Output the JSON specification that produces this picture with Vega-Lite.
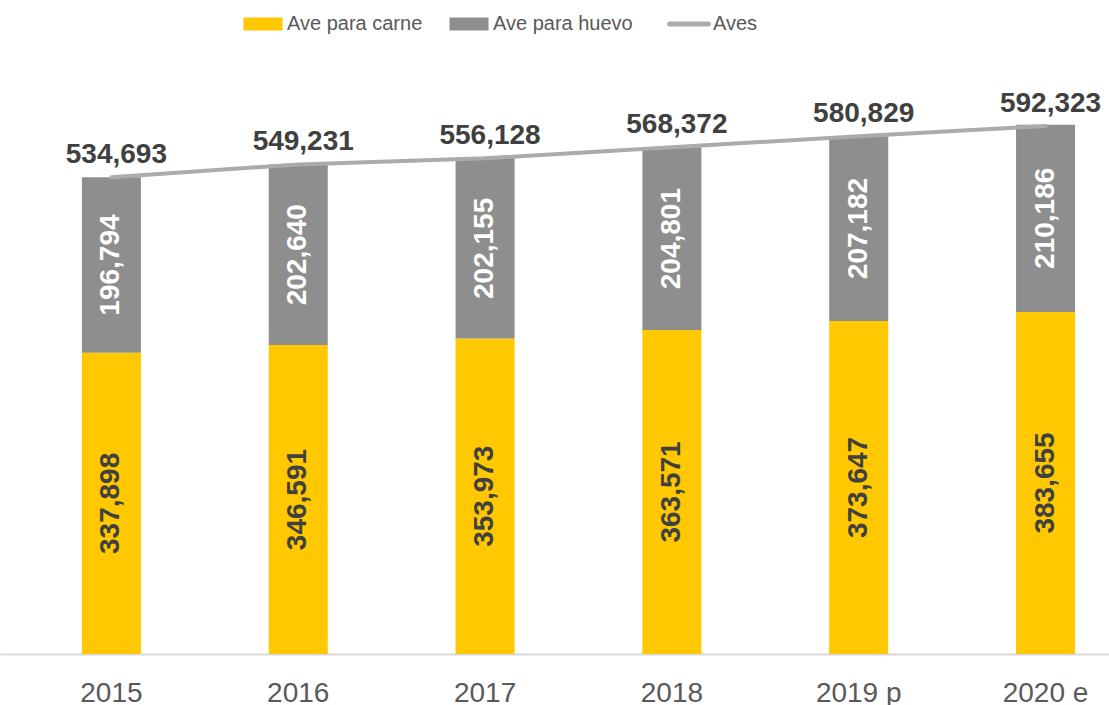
{
  "$schema": "https://vega.github.io/schema/vega-lite/v6.json",
  "width": 1109,
  "height": 624,
  "autosize": {"type": "none"},
  "padding": {"left": 0, "top": 30, "right": 0, "bottom": 51},
  "background": "white",
  "config": {"view": {"stroke": null}, "font": "Liberation Sans"},
  "datasets": {
    "parts": [
      {"year": "2015", "type": "Ave para carne", "value": 337898},
      {"year": "2015", "type": "Ave para huevo", "value": 196794},
      {"year": "2016", "type": "Ave para carne", "value": 346591},
      {"year": "2016", "type": "Ave para huevo", "value": 202640},
      {"year": "2017", "type": "Ave para carne", "value": 353973},
      {"year": "2017", "type": "Ave para huevo", "value": 202155},
      {"year": "2018", "type": "Ave para carne", "value": 363571},
      {"year": "2018", "type": "Ave para huevo", "value": 204801},
      {"year": "2019 p", "type": "Ave para carne", "value": 373647},
      {"year": "2019 p", "type": "Ave para huevo", "value": 207182},
      {"year": "2020 e", "type": "Ave para carne", "value": 383655},
      {"year": "2020 e", "type": "Ave para huevo", "value": 210186}
    ],
    "totals": [
      {"year": "2015", "total": 534693},
      {"year": "2016", "total": 549231},
      {"year": "2017", "total": 556128},
      {"year": "2018", "total": 568372},
      {"year": "2019 p", "total": 580829},
      {"year": "2020 e", "total": 592323}
    ]
  },
  "layer": [
    {
      "data": {"name": "parts"},
      "mark": {"type": "bar"},
      "encoding": {
        "x": {
          "field": "year", "type": "nominal", "sort": null,
          "scale": {"paddingInner": 0.684, "paddingOuter": 0.31, "align": 0.707},
          "axis": {
            "title": null, "labelAngle": 0, "labelFontSize": 28, "labelColor": "#595959",
            "labelFont": "Liberation Sans", "ticks": false, "tickSize": 0,
            "labelPadding": 47, "labelBaseline": "alphabetic",
            "domainColor": "#D9D9D9", "domainWidth": 2
          }
        },
        "y": {
          "field": "value", "type": "quantitative", "stack": "zero",
          "scale": {"domain": [0, 700000], "nice": false, "zero": true},
          "axis": null
        },
        "order": {"field": "type", "sort": "ascending"},
        "color": {
          "field": "type", "type": "nominal",
          "scale": {
            "domain": ["Ave para carne", "Ave para huevo", "Aves"],
            "range": ["#FFC800", "#8E8E8E", "#ABABAB"]
          },
          "legend": {
            "orient": "none", "legendX": 253, "legendY": -16,
            "direction": "horizontal", "title": null,
            "labelFont": "Liberation Sans", "labelFontSize": 20,
            "labelColor": "#595959", "labelOffset": 14, "columnPadding": 26,
            "symbolType": "M-1,-0.333H1V0.333H-1Z", "symbolSize": 1521,
            "symbolStrokeWidth": 0,
            "encode": {
              "symbols": {
                "update": {
                  "shape": {"signal": "datum.value === 'Aves' ? 'M-1,0H1' : 'M-1,-0.333H1V0.333H-1Z'"},
                  "fill": {"signal": "datum.value === 'Aves' ? 'transparent' : (datum.value === 'Ave para carne' ? '#FFC800' : '#8E8E8E')"},
                  "stroke": {"signal": "datum.value === 'Aves' ? '#ABABAB' : 'transparent'"},
                  "strokeWidth": {"signal": "datum.value === 'Aves' ? 5 : 0"},
                  "strokeCap": {"value": "round"},
                  "opacity": {"value": 1}
                }
              }
            }
          }
        }
      }
    },
    {
      "data": {"name": "parts"},
      "transform": [
        {"stack": "value", "groupby": ["year"], "sort": [{"field": "type", "order": "ascending"}], "as": ["v0", "v1"]},
        {"calculate": "(datum.v0 + datum.v1) / 2", "as": "mid"}
      ],
      "mark": {"type": "text", "angle": 270, "fontSize": 28, "fontWeight": "bold", "font": "Liberation Sans", "align": "center", "baseline": "middle"},
      "encoding": {
        "x": {"field": "year", "type": "nominal", "sort": null},
        "y": {"field": "mid", "type": "quantitative"},
        "text": {"field": "value", "type": "quantitative", "format": ",d"},
        "color": {"condition": {"test": "datum.type === 'Ave para huevo'", "value": "#FFFFFF"}, "value": "#404040"}
      }
    },
    {
      "data": {"name": "totals"},
      "mark": {"type": "line", "strokeWidth": 4, "strokeCap": "round"},
      "encoding": {
        "x": {"field": "year", "type": "nominal", "sort": null},
        "y": {"field": "total", "type": "quantitative"},
        "color": {"datum": "Aves"}
      }
    },
    {
      "data": {"name": "totals"},
      "mark": {"type": "text", "fontSize": 28, "fontWeight": "bold", "font": "Liberation Sans", "color": "#404040", "baseline": "alphabetic", "align": "center", "dy": -14, "dx": 5},
      "encoding": {
        "x": {"field": "year", "type": "nominal", "sort": null},
        "y": {"field": "total", "type": "quantitative"},
        "text": {"field": "total", "type": "quantitative", "format": ",d"}
      }
    }
  ]
}
